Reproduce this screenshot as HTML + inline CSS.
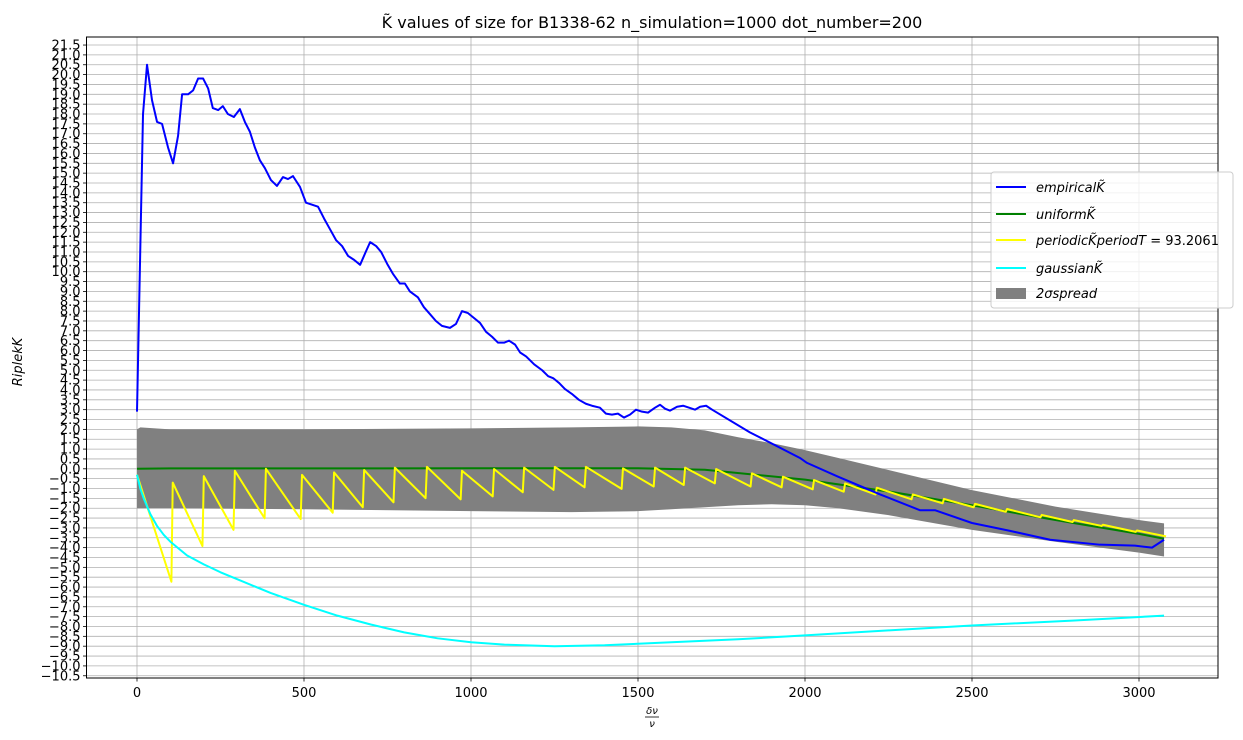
<!DOCTYPE html>
<html><head><meta charset="utf-8"><style>
body{margin:0;background:#fff;}
svg{display:block;font-family:"DejaVu Sans","Liberation Sans",sans-serif;}
</style></head><body>
<svg id="chart" width="1243" height="740" viewBox="0 0 1243 740" xmlns="http://www.w3.org/2000/svg">
<rect width="1243" height="740" fill="#fff"/>
<text x="652" y="28" font-size="16" text-anchor="middle">K̃ values of size for B1338-62 n_simulation=1000 dot_number=200</text>
<g id="grid"></g>
<g id="series"></g>
<g id="axes"></g>
<text transform="translate(22,362) rotate(-90)" font-size="13" font-style="italic" text-anchor="middle">RiplekK</text>
<g font-size="10" font-style="italic" text-anchor="middle">
<text x="652" y="714">δν</text><line x1="645" y1="717" x2="659" y2="717" stroke="#000" stroke-width="0.8"/><text x="652" y="727">ν</text></g>
<g>
<rect x="991" y="172" width="242" height="136" rx="3" fill="#fff" fill-opacity="0.8" stroke="#ccc"/>
<g><line x1="996" y1="187" x2="1026" y2="187" stroke="#0000ff" stroke-width="2"/><text x="1036" y="192" font-size="13" font-style="italic">empiricalK̃</text></g>
<g><line x1="996" y1="214" x2="1026" y2="214" stroke="#008000" stroke-width="2"/><text x="1036" y="219" font-size="13" font-style="italic">uniformK̃</text></g>
<g><line x1="996" y1="240" x2="1026" y2="240" stroke="#ffff00" stroke-width="2"/><text x="1036" y="245" font-size="13"><tspan font-style="italic">periodicK̃periodT</tspan> = 93.2061</text></g>
<g><line x1="996" y1="268" x2="1026" y2="268" stroke="#00ffff" stroke-width="2"/><text x="1036" y="273" font-size="13" font-style="italic">gaussianK̃</text></g>
<g><rect x="996" y="288" width="30" height="11" fill="#808080"/><text x="1036" y="298" font-size="13" font-style="italic">2σspread</text></g>
</g>
</svg>
<script>
const empX=[0,18,30,45,60,75,93,108,123,135,153,168,183,198,213,227,243,257,272,290,308,323,338,353,368,383,401,419,437,452,467,488,506,542,560,578,596,614,632,650,668,686,698,716,731,749,766,787,802,817,841,859,877,895,913,937,955,973,991,1009,1027,1045,1063,1081,1099,1114,1132,1147,1165,1189,1213,1231,1246,1264,1281,1302,1323,1344,1362,1386,1404,1422,1440,1458,1476,1494,1512,1530,1551,1566,1581,1596,1617,1635,1653,1671,1686,1704,1722,1835,1985,2006,2099,2225,2344,2389,2500,2614,2734,2883,2988,3039,3075];
const empY=[2.9,18.0,20.5,18.7,17.6,17.5,16.3,15.5,16.9,19.0,19.0,19.2,19.8,19.8,19.3,18.3,18.2,18.4,18.0,17.85,18.25,17.6,17.1,16.3,15.65,15.25,14.65,14.35,14.8,14.7,14.85,14.3,13.5,13.3,12.7,12.15,11.6,11.3,10.8,10.6,10.35,11.05,11.5,11.3,11.0,10.4,9.9,9.4,9.4,9.0,8.7,8.2,7.85,7.5,7.25,7.15,7.35,8.0,7.9,7.65,7.4,6.95,6.7,6.4,6.4,6.5,6.3,5.9,5.7,5.3,5.0,4.7,4.6,4.35,4.05,3.8,3.5,3.3,3.2,3.1,2.8,2.75,2.8,2.6,2.75,3.0,2.9,2.85,3.1,3.25,3.05,2.95,3.15,3.2,3.1,3.0,3.15,3.2,3.0,1.85,0.55,0.3,-0.4,-1.3,-2.1,-2.1,-2.75,-3.15,-3.6,-3.85,-3.9,-4.0,-3.6];
const uniX=[0,100,500,1000,1500,1700,2000,2250,2500,2750,3000,3075];
const uniY=[0,0.02,0.02,0.03,0.03,-0.05,-0.55,-1.15,-1.85,-2.6,-3.3,-3.55];
const gauX=[0,10,20,40,60,80,100,150,200,250,300,400,500,600,700,800,900,1000,1100,1250,1400,1600,1800,2000,2250,2500,2800,3075];
const gauY=[-0.3,-1.0,-1.5,-2.3,-2.9,-3.35,-3.7,-4.4,-4.85,-5.25,-5.6,-6.3,-6.9,-7.45,-7.9,-8.3,-8.6,-8.8,-8.92,-9.0,-8.95,-8.8,-8.65,-8.45,-8.2,-7.95,-7.7,-7.45];
const perPeakX=[107,200,293,386,494,590,680,772,868,973,1069,1159,1251,1344,1455,1551,1641,1734,1841,1934,2027,2120,2215,2323,2416,2509,2605,2709,2805,2892,2994];
const perPeakY=[-0.7,-0.37,-0.1,0,-0.31,-0.18,-0.06,0.06,0.1,-0.1,-0.01,0.06,0.1,0.1,0.02,0.06,0.06,-0.01,-0.23,-0.4,-0.57,-0.74,-0.96,-1.3,-1.53,-1.78,-2.04,-2.34,-2.6,-2.84,-3.13];
const perTroughY=[-5.73,-3.92,-3.1,-2.51,-2.55,-2.23,-1.95,-1.7,-1.49,-1.55,-1.4,-1.19,-1.07,-0.94,-1.02,-0.9,-0.82,-0.74,-0.9,-0.94,-1.04,-1.16,-1.3,-1.55,-1.75,-1.95,-2.18,-2.46,-2.7,-2.9,-3.2];
const perStart=[0,-0.3];
const perEnd=[3081,-3.43];
const bandX=[0,10,100,500,1000,1300,1500,1600,1700,1800,1900,2000,2100,2250,2500,2750,3000,3075];
const bandTop=[2.0,2.1,2.0,2.0,2.05,2.1,2.15,2.1,1.95,1.6,1.3,0.95,0.55,-0.06,-1.08,-1.92,-2.6,-2.77];
const bandBot=[-2.0,-2.0,-2.0,-2.05,-2.15,-2.2,-2.15,-2.05,-1.95,-1.85,-1.8,-1.85,-2.0,-2.35,-3.1,-3.7,-4.25,-4.45];
const xTicks=[0,500,1000,1500,2000,2500,3000];
const yMin=-10.5,yMax=21.5,yStep=0.5;

const L=86.5,R=1218,T=37,B=678;
const sx=v=>137+v*0.334;
const sy=v=>468.8-v*19.71;
const NS='http://www.w3.org/2000/svg';
function mk(tag,attrs,parent){const e=document.createElementNS(NS,tag);for(const k in attrs)e.setAttribute(k,attrs[k]);parent.appendChild(e);return e;}
const grid=document.getElementById('grid'),ser=document.getElementById('series'),ax=document.getElementById('axes');
const fmt=v=>(v<0?'\u2212':'')+Math.abs(v).toFixed(1);
for(let i=0;i<=Math.round((yMax-yMin)/yStep);i++){
 const v=yMin+i*yStep,y=sy(v);
 const gl=mk('line',{x1:L,x2:R,y1:y,y2:y,stroke:'#b0b0b0','stroke-width':0.8},grid);
 
 
 const tk=mk('line',{x1:L-3.5,x2:L,y1:y,y2:y,stroke:'#000','stroke-width':0.8},ax);
 
 
 const t=mk('text',{x:L-6,y:y+4.5,'font-size':13,'text-anchor':'end'},ax);
 t.textContent=fmt(v);
 
 
}
xTicks.forEach(v=>{
 const x=sx(v);
 const gl=mk('line',{x1:x,x2:x,y1:T,y2:B,stroke:'#b0b0b0','stroke-width':0.8},grid);
 
 
 const tk=mk('line',{x1:x,x2:x,y1:B,y2:B+3.5,stroke:'#000','stroke-width':0.8},ax);
 
 
 const t=mk('text',{x:x,y:B+19,'font-size':13,'text-anchor':'middle'},ax);
 t.textContent=String(v);
 
 
});
const frame=mk('rect',{x:L,y:T,width:R-L,height:B-T,fill:'none',stroke:'#000','stroke-width':1},ax);


let d='M'+bandX.map((x,i)=>sx(x)+','+sy(bandTop[i])).join('L');
for(let i=bandX.length-1;i>=0;i--)d+='L'+sx(bandX[i])+','+sy(bandBot[i]);
const band=mk('path',{d:d+'Z',fill:'#808080'},ser);


function line(xs,ys,color,name){
 const p=mk('polyline',{points:xs.map((x,i)=>sx(x)+','+sy(ys[i])).join(' '),fill:'none',stroke:color,'stroke-width':2,'stroke-linejoin':'round'},ser);
 
 
}
line(uniX,uniY,'#008000','uniform-line');
const px=[perStart[0]],py=[perStart[1]];
perPeakX.forEach((x,i)=>{px.push(x-4);py.push(perTroughY[i]);px.push(x);py.push(perPeakY[i]);});
px.push(perEnd[0]);py.push(perEnd[1]);
line(px,py,'#ffff00','periodic-line');
line(gauX,gauY,'#00ffff','gaussian-line');
line(empX,empY,'#0000ff','empirical-line');
</script>
</body></html>
